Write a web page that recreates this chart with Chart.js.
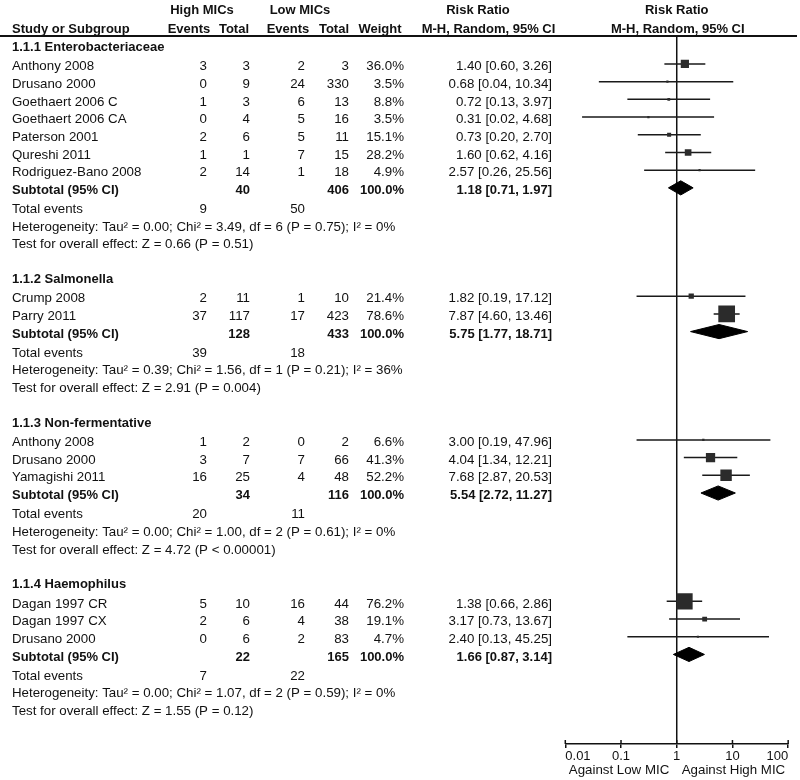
<!DOCTYPE html>
<html><head><meta charset="utf-8">
<script src="https://cdn.jsdelivr.net/npm/chart.js@4.4.1/dist/chart.umd.min.js"></script>
<style>html,body{margin:0;padding:0;background:#fff}canvas{display:block}</style>
</head><body>
<canvas id="c" width="800" height="780"></canvas>
<script>
// ---------------- DATA ----------------
const groupNames = ["1.1.1 Enterobacteriaceae", "1.1.2 Salmonella", "1.1.3 Non-fermentative", "1.1.4 Haemophilus"];
const studyGroup = [0,0,0,0,0,0,0, 1,1, 2,2,2, 3,3,3];
const studyNames = ["Anthony 2008","Drusano 2000","Goethaert 2006 C","Goethaert 2006 CA","Paterson 2001","Qureshi 2011","Rodriguez-Bano 2008",
                    "Crump 2008","Parry 2011",
                    "Anthony 2008","Drusano 2000","Yamagishi 2011",
                    "Dagan 1997 CR","Dagan 1997 CX","Drusano 2000"];
const highEvents = [3,0,1,0,2,1,2, 2,37, 1,3,16, 5,2,0];
const highTotal  = [3,9,3,4,6,1,14, 11,117, 2,7,25, 10,6,6];
const lowEvents  = [2,24,6,5,5,7,1, 1,17, 0,7,4, 16,4,2];
const lowTotal   = [3,330,13,16,11,15,18, 10,423, 2,66,48, 44,38,83];
const weights    = [36.0,3.5,8.8,3.5,15.1,28.2,4.9, 21.4,78.6, 6.6,41.3,52.2, 76.2,19.1,4.7];
const riskRatio  = [1.40,0.68,0.72,0.31,0.73,1.60,2.57, 1.82,7.87, 3.00,4.04,7.68, 1.38,3.17,2.40];
const ciLow      = [0.60,0.04,0.13,0.02,0.20,0.62,0.26, 0.19,4.60, 0.19,1.34,2.87, 0.66,0.73,0.13];
const ciHigh     = [3.26,10.34,3.97,4.68,2.70,4.16,25.56, 17.12,13.46, 47.96,12.21,20.53, 2.86,13.67,45.25];

const subHighTotal = [40,128,34,22];
const subLowTotal  = [406,433,116,165];
const subWeight    = [100.0,100.0,100.0,100.0];
const subRR        = [1.18,5.75,5.54,1.66];
const subLow       = [0.71,1.77,2.72,0.87];
const subHigh      = [1.97,18.71,11.27,3.14];
const totalEventsHigh = [9,39,20,7];
const totalEventsLow  = [50,18,11,22];
const heterogeneity = [
  "Heterogeneity: Tau\u00b2 = 0.00; Chi\u00b2 = 3.49, df = 6 (P = 0.75); I\u00b2 = 0%",
  "Heterogeneity: Tau\u00b2 = 0.39; Chi\u00b2 = 1.56, df = 1 (P = 0.21); I\u00b2 = 36%",
  "Heterogeneity: Tau\u00b2 = 0.00; Chi\u00b2 = 1.00, df = 2 (P = 0.61); I\u00b2 = 0%",
  "Heterogeneity: Tau\u00b2 = 0.00; Chi\u00b2 = 1.07, df = 2 (P = 0.59); I\u00b2 = 0%"];
const overallEffect = [
  "Test for overall effect: Z = 0.66 (P = 0.51)",
  "Test for overall effect: Z = 2.91 (P = 0.004)",
  "Test for overall effect: Z = 4.72 (P < 0.00001)",
  "Test for overall effect: Z = 1.55 (P = 0.12)"];
const tickValues = [0.01, 0.1, 1, 10, 100];
const tickLabels = ["0.01", "0.1", "1", "10", "100"];
const axisLeftLabel = "Against Low MIC";
const axisRightLabel = "Against High MIC";

// ---------------- LAYOUT (row slots) ----------------
const headingSlots = [], studySlots = [], subtotalSlots = [], totalSlots = [], hetSlots = [], testSlots = [];
(function () {
  let s = 0;
  for (let g = 0; g < groupNames.length; g++) {
    headingSlots.push(s);
    s += 1.1;
    studyGroup.forEach((gg, i) => { if (gg === g) { studySlots[i] = s; s += 1; } });
    subtotalSlots.push(s);
    s += 1.07; totalSlots.push(s);
    s += 1; hetSlots.push(s);
    s += 1; testSlots.push(s);
    s += 1.95;
  }
})();

const FONT = '"Liberation Sans", Arial, Helvetica, sans-serif';
const INK = '#111';
const COL = { name: 12, hEv: 207, hTot: 250, lEv: 305, lTot: 349, wt: 404, rr: 552 };
const fmtRR = (r, l, h) => r.toFixed(2) + " [" + l.toFixed(2) + ", " + h.toFixed(2) + "]";

// ---------------- DATASETS ----------------
const squareData = riskRatio.map((r, i) => ({ x: r, y: studySlots[i] }));
const ciData = [];
riskRatio.forEach((r, i) => {
  ciData.push({ x: ciLow[i], y: studySlots[i] });
  ciData.push({ x: ciHigh[i], y: studySlots[i] });
  ciData.push({ x: ciHigh[i], y: null });
});
const DH = 0.4; // diamond half height in row units
const diamondSets = subRR.map((r, g) => ({
  type: 'line',
  data: [
    { x: subLow[g], y: subtotalSlots[g] },
    { x: r, y: subtotalSlots[g] - DH },
    { x: subHigh[g], y: subtotalSlots[g] },
    { x: r, y: subtotalSlots[g] + DH },
    { x: subLow[g], y: subtotalSlots[g] }
  ],
  borderColor: '#000', borderWidth: 1, backgroundColor: '#000',
  fill: 'shape', pointRadius: 0, tension: 0, order: 2
}));

const squareRadius = c => { const w = weights[c.dataIndex]; const side = Math.max(2.2, 0.2 * w + 1); return side / (2 * Math.SQRT1_2); };

// ---------------- PLUGINS ----------------
const decor = {
  id: 'decor',
  beforeDatasetsDraw(chart) {
    const { ctx, chartArea, scales: { x } } = chart;
    ctx.save();
    ctx.strokeStyle = INK;
    ctx.lineWidth = 2;
    ctx.beginPath(); ctx.moveTo(0, 36); ctx.lineTo(797, 36); ctx.stroke();
    const x1 = x.getPixelForValue(1);
    ctx.lineWidth = 1.5;
    ctx.beginPath(); ctx.moveTo(x1, chartArea.top); ctx.lineTo(x1, chartArea.bottom); ctx.stroke();
    ctx.restore();
  },
  afterDraw(chart) {
    const { ctx, chartArea, scales: { x, y } } = chart;
    ctx.save();
    ctx.fillStyle = INK;
    ctx.textBaseline = 'middle';
    const T = (str, px, py, align, bold) => {
      ctx.font = bold ? 'bold 13px ' + FONT : '13.3px ' + FONT;
      ctx.textAlign = align;
      ctx.fillText(str, px, py);
    };
    const Y = s => y.getPixelForValue(s) + 2.5;
    ctx.strokeStyle = INK; ctx.lineWidth = 1.5;
    tickValues.forEach(v => {
      const px = x.getPixelForValue(v);
      ctx.beginPath(); ctx.moveTo(px, chartArea.bottom - 4); ctx.lineTo(px, chartArea.bottom); ctx.stroke();
    });
    T("High MICs", 202, 10, 'center', true);
    T("Low MICs", 300, 10, 'center', true);
    T("Risk Ratio", 478, 10, 'center', true);
    T("Risk Ratio", x.getPixelForValue(1), 10, 'center', true);
    T("Study or Subgroup", COL.name, 29, 'left', true);
    T("Events", 189, 29, 'center', true);
    T("Total", 234, 29, 'center', true);
    T("Events", 288, 29, 'center', true);
    T("Total", 334, 29, 'center', true);
    T("Weight", 380, 29, 'center', true);
    T("M-H, Random, 95% CI", 488.5, 29, 'center', true);
    T("M-H, Random, 95% CI", x.getPixelForValue(1) + 1, 29, 'center', true);
    groupNames.forEach((gName, g) => {
      T(gName, COL.name, Y(headingSlots[g]), 'left', true);
      studyNames.forEach((n, i) => {
        if (studyGroup[i] !== g) return;
        const py = Y(studySlots[i]);
        T(n, COL.name, py, 'left', false);
        T(String(highEvents[i]), COL.hEv, py, 'right', false);
        T(String(highTotal[i]), COL.hTot, py, 'right', false);
        T(String(lowEvents[i]), COL.lEv, py, 'right', false);
        T(String(lowTotal[i]), COL.lTot, py, 'right', false);
        T(weights[i].toFixed(1) + "%", COL.wt, py, 'right', false);
        T(fmtRR(riskRatio[i], ciLow[i], ciHigh[i]), COL.rr, py, 'right', false);
      });
      let py = Y(subtotalSlots[g]);
      T("Subtotal (95% CI)", COL.name, py, 'left', true);
      T(String(subHighTotal[g]), COL.hTot, py, 'right', true);
      T(String(subLowTotal[g]), COL.lTot, py, 'right', true);
      T(subWeight[g].toFixed(1) + "%", COL.wt, py, 'right', true);
      T(fmtRR(subRR[g], subLow[g], subHigh[g]), COL.rr, py, 'right', true);
      py = Y(totalSlots[g]);
      T("Total events", COL.name, py, 'left', false);
      T(String(totalEventsHigh[g]), COL.hEv, py, 'right', false);
      T(String(totalEventsLow[g]), COL.lEv, py, 'right', false);
      T(heterogeneity[g], COL.name, Y(hetSlots[g]), 'left', false);
      T(overallEffect[g], COL.name, Y(testSlots[g]), 'left', false);
    });
    T(axisLeftLabel, x.getPixelForValue(0.1) - 2, 770, 'center', false);
    T(axisRightLabel, x.getPixelForValue(10) + 1, 770, 'center', false);
    ctx.restore();
  }
};

// ---------------- CHART ----------------
new Chart(document.getElementById('c'), {
  type: 'scatter',
  data: {
    datasets: [
      {
        type: 'scatter', data: squareData, order: 0,
        pointStyle: 'rect', backgroundColor: '#2b2b2b', borderWidth: 0,
        pointRadius: squareRadius, pointHoverRadius: squareRadius
      },
      {
        type: 'line', data: ciData, order: 1, spanGaps: false,
        borderColor: '#1a1a1a', borderWidth: 1.5, pointRadius: 0, fill: false, tension: 0
      },
      ...diamondSets
    ]
  },
  options: {
    responsive: false, animation: false, events: [],
    layout: { padding: { left: 565.3, right: 10.7, top: 36, bottom: 0 } },
    plugins: { legend: { display: false }, tooltip: { enabled: false } },
    scales: {
      x: {
        type: 'logarithmic', min: 0.01, max: 100, position: 'bottom',
        afterBuildTicks: s => { s.ticks = tickValues.map(v => ({ value: v })); },
        afterFit: s => { s.height = 36; },
        ticks: {
          align: 'inner', autoSkip: false, maxRotation: 0, padding: 1,
          color: INK, font: { family: FONT, size: 13 },
          callback: (v, i) => tickLabels[i]
        },
        grid: { drawOnChartArea: false, drawTicks: true, tickLength: 4, color: INK, lineWidth: 1.5 },
        border: { display: true, color: INK, width: 1.5 }
      },
      y: { type: 'linear', display: false, reverse: true, min: -0.48, max: 39.52 }
    }
  },
  plugins: [decor]
});
</script>
</body></html>
